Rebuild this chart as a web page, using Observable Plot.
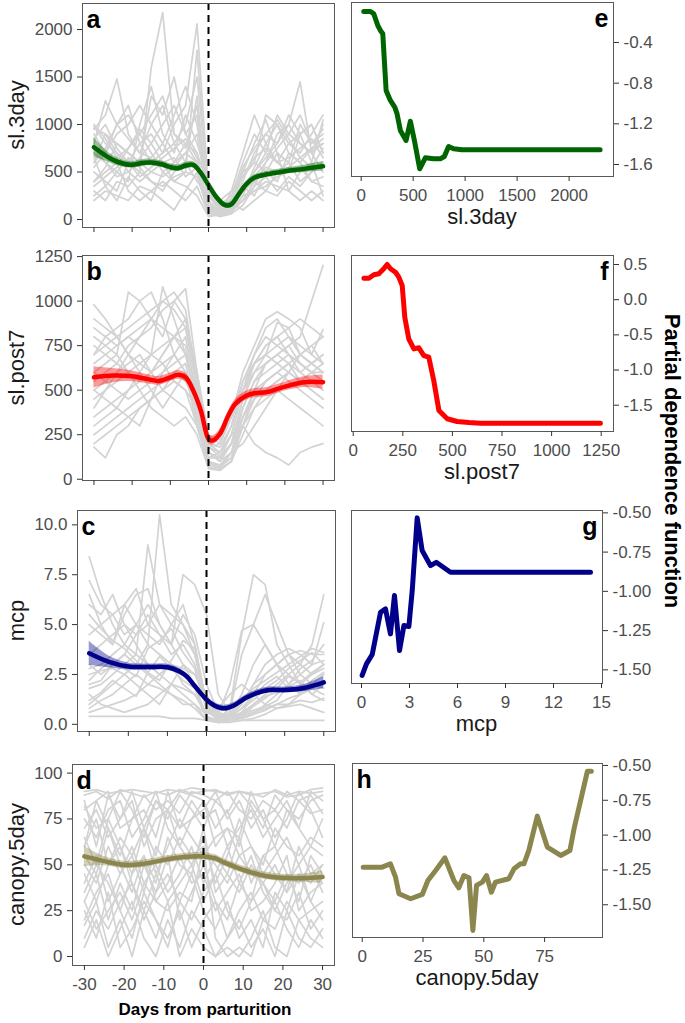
<!DOCTYPE html>
<html><head><meta charset="utf-8">
<script src="https://cdn.jsdelivr.net/npm/d3@7"></script>
<script src="https://cdn.jsdelivr.net/npm/@observablehq/plot@0.6"></script>
<style>
body{margin:0;background:#fff;}
#fig{position:relative;width:685px;height:1023px;overflow:hidden;font-family:"Liberation Sans",Arial,sans-serif;}
</style></head><body><div id="fig"></div>
<script>
// ---------- data ----------
const days = [-30,-27,-24,-21,-18,-15,-12,-9,-6,-3,0,3,6,9,12,15,18,21,24,27,30];
const xTickDays = [-30,-20,-10,0,10,20,30];

// individual traces (grey), values at `days`
const sl3dayTraces = [
  [950,1100,1480,900,700,650,800,600,700,900,200,80,150,400,700,900,800,1000,1450,700,800],
  [300,200,400,350,500,1600,2180,900,800,600,100,50,100,300,500,700,600,800,900,600,1050],
  [980,800,700,600,800,900,700,1000,1200,2060,300,100,200,500,600,1100,1000,800,700,900,1100],
  [600,900,700,500,400,500,600,400,500,1780,150,40,80,200,400,300,500,600,400,500,600],
  [800,1250,1000,1100,900,700,500,600,800,700,80,30,60,150,350,600,900,1000,800,700,500],
  [200,300,250,200,350,300,400,300,200,350,50,40,100,250,300,400,350,300,200,300,200],
  [700,600,500,400,1000,1400,900,700,1100,800,400,200,300,700,1100,800,600,500,900,1000,700],
  [500,400,300,600,500,400,300,500,600,400,250,120,180,100,200,300,250,400,300,200,300],
  [900,700,1000,1200,800,600,700,800,600,1300,120,60,90,500,800,1050,700,600,1000,800,900],
  [400,500,600,300,200,300,200,100,300,500,60,100,200,350,250,500,400,700,600,400,450],
  [960,900,800,700,600,1300,1100,1500,900,700,350,150,250,600,900,700,1100,900,800,700,1000],
  [650,350,200,450,300,200,500,400,350,250,30,50,300,450,600,500,700,300,500,600,250],
  [550,700,900,1000,1200,1000,800,1100,1400,1000,250,90,150,350,500,650,800,1100,900,1000,700],
  [750,600,450,500,650,800,1000,1200,900,1100,180,70,120,300,450,600,750,900,1100,800,950],
  [400,550,800,700,600,500,450,550,700,600,120,40,70,250,550,800,1000,700,600,750,800],
  [1000,850,650,750,900,1100,1300,900,750,1200,280,120,220,450,650,750,600,650,750,850,650],
  [250,350,500,650,550,400,350,450,500,450,90,60,120,200,300,350,450,500,550,400,350],
  [600,750,1000,850,700,1000,1200,800,1000,1500,300,140,200,550,750,900,1050,850,650,550,750],
  [850,1000,750,600,450,550,650,750,850,650,150,80,160,300,400,550,500,550,650,750,850],
  [350,450,550,750,950,800,600,650,450,550,70,50,90,200,350,450,300,450,350,500,600]
];
const slpost7Traces = [
  [980,900,800,700,650,600,700,800,900,600,250,200,350,600,750,900,940,900,850,700,840],
  [180,120,250,300,400,450,500,600,550,400,150,100,150,200,300,400,500,600,700,650,600],
  [700,800,850,900,1000,1050,900,700,600,350,100,80,120,300,500,650,700,750,800,1000,1200],
  [500,450,400,350,300,450,600,700,800,450,120,150,250,300,200,150,120,80,150,180,200],
  [600,650,700,1050,1000,900,800,1000,1070,600,200,150,250,500,650,750,800,700,650,600,550],
  [300,350,400,500,600,700,1080,900,700,400,150,100,200,400,550,600,650,700,600,550,500],
  [900,850,800,700,600,500,400,500,600,300,80,60,100,350,500,550,600,650,550,500,450],
  [400,500,600,650,700,600,500,450,400,300,120,120,200,450,600,700,880,850,700,650,700],
  [800,750,700,600,500,400,350,300,350,250,60,50,100,300,450,500,550,600,700,750,650],
  [550,600,650,750,800,850,950,1000,900,500,200,180,300,550,700,800,750,700,650,600,550],
  [250,300,350,400,450,500,550,600,650,350,100,80,150,350,450,550,600,550,500,450,400],
  [650,700,750,800,750,700,650,550,500,400,180,200,350,500,600,650,700,750,650,600,600],
  [700,750,800,850,900,950,1000,950,850,500,150,100,200,450,650,750,800,850,900,850,800],
  [450,500,550,600,650,700,750,800,750,400,100,60,150,400,550,650,700,650,600,650,700],
  [850,800,750,800,850,900,850,800,700,450,150,120,250,500,650,700,750,800,750,700,650],
  [350,400,450,500,550,600,650,700,600,300,70,50,100,250,400,500,550,600,550,500,450],
  [600,550,500,450,500,550,600,650,700,450,180,150,300,500,700,850,900,800,700,650,600],
  [200,250,300,350,400,450,500,550,500,300,90,70,120,300,400,450,500,450,400,350,300],
  [750,700,650,600,550,600,700,800,850,550,250,220,350,550,650,700,650,600,550,600,650],
  [500,550,600,700,800,900,1000,1050,950,550,180,130,200,350,450,550,600,650,700,750,800]
];
const mcpTraces = [
  [7.2,6,5.5,4.5,5,4,3.5,3,2.8,2.5,1.5,0.5,0.4,1,2,2.5,3,3.5,3.7,3.5,3.5],
  [8.4,6.5,5,4,3.5,9,6,5,4.5,3.5,0.8,0.2,0.3,0.5,1,1.5,2,2.5,3,4,6.5],
  [0.4,0.4,0.4,0.4,0.4,0.4,0.4,0.3,0.3,0.3,0.2,0.2,0.2,0.2,0.2,0.2,0.2,0.2,0.2,0.2,0.2],
  [2.5,2.7,2.8,2.5,3,4,10.5,6,5,4,1,0.3,0.8,4.5,7.5,7,4,3,2,1.5,1.2],
  [6.5,5,4,5.5,6.5,6.8,5,4,7.5,7,5.5,1.5,0.6,0.3,0.5,1,1.5,2,2.5,3,5.1],
  [1,1.5,2,2.5,2,1.5,1,2,3,2,0.4,0.1,0.2,0.4,0.6,0.8,1,1,1.2,1.1,1.3],
  [2.8,3,3.5,4,5,6,5,4,3,2.5,1.2,0.5,2,4.7,5,6.5,5,3.5,2.5,2,2.5],
  [1.5,1,0.8,0.6,0.8,1,1.5,2,1.5,1,0.2,0.1,0.1,0.2,0.3,0.5,0.8,1,1.5,2,1.8],
  [3.5,4,4.5,5,4,3,2.5,3,2,1.5,0.6,0.3,0.4,0.8,1.2,1.8,2.2,2.8,3.2,3.6,3],
  [2,2.2,3,3.5,3,2.5,2,1.5,1,1,0.5,0.8,1.5,2,1.5,1,0.8,0.9,1,0.8,0.6],
  [5,4.5,4,6,6.8,5,4.5,4,5.5,4.5,2,0.6,0.4,0.5,0.7,0.9,1.2,2,2.8,3.2,4],
  [0.6,0.8,1,1.2,1.5,2,2.5,3,2.5,2,0.3,0.2,0.3,0.6,1,1.4,1.6,1.9,2.2,1.5,2],
  [4.5,5,5.5,6,5,4.5,4,5,6,4,1,0.3,0.5,1.5,3,4,3,2.5,2,2.5,3],
  [1.8,2,2.5,3,3.5,3,2.5,2,1.8,1.5,0.4,0.2,0.3,0.8,1.5,2.5,3,3.5,3,2.5,2.8],
  [6,5.5,6.5,5,4.5,5,6,5.5,5,3.5,1.2,0.4,0.6,3.5,5,4,3,2,1.5,1.8,2.2],
  [0.8,1.2,1.5,2,2.5,2,1.8,1.5,1.2,0.8,0.2,0.1,0.2,0.3,0.5,0.7,1,1.3,1.5,1.8,1.5],
  [3,2.5,3,3.5,4.5,5.5,4.5,3.5,4,3,0.8,0.2,0.4,1,2,3,3.5,3.8,3.5,3,3.2],
  [2.2,2.8,3.2,2.8,2.4,3.8,4.2,4.8,3.6,2.8,0.7,0.3,0.5,1.2,1.8,2.2,2.6,3,3.4,3.8,3.6],
  [5.5,4.8,4.2,3.8,3.2,2.6,2.2,3.2,4.2,3.8,0.9,0.4,0.2,0.6,1.4,2,2.4,1.8,1.6,2.2,2.6],
  [1.2,1.6,2.2,1.8,1.4,2.6,3.4,2.8,2.2,1.8,0.3,0.1,0.2,0.4,0.9,1.3,1.8,2.4,2.1,2.6,3]
];
const canopyTraces = [
  [90,91,89,90,91,90,89,91,90,92,91,90,89,90,88,89,90,87,88,91,92],
  [85,60,88,75,90,70,85,80,90,88,85,70,80,60,85,75,80,70,85,78,80],
  [17,30,5,20,0,25,10,30,0,15,5,0,10,20,5,15,0,25,10,5,15],
  [50,40,60,45,55,35,60,50,65,55,60,50,40,55,45,40,50,35,45,40,50],
  [30,15,25,35,20,40,30,25,35,30,60,10,0,5,0,20,15,30,20,25,30],
  [70,80,65,75,85,60,75,80,70,85,75,80,60,70,80,65,75,85,70,60,75],
  [40,55,30,45,60,40,50,35,45,60,40,55,45,35,50,40,30,45,40,50,35],
  [60,75,50,65,55,70,45,60,75,65,55,65,70,55,60,45,55,65,50,60,55],
  [25,10,35,5,15,30,20,10,25,5,20,30,10,25,35,20,30,15,5,20,10],
  [80,85,90,70,75,88,80,85,78,90,88,85,90,80,75,85,80,90,85,88,78],
  [10,25,15,30,40,20,35,45,30,20,35,45,25,15,30,40,25,20,35,15,25],
  [55,45,70,50,35,55,40,65,50,45,70,35,45,65,40,55,60,45,30,55,45],
  [35,50,40,25,45,55,30,40,55,40,45,25,35,45,25,30,40,55,25,35,40],
  [75,65,80,85,65,75,90,70,60,75,80,90,75,85,70,80,65,75,90,80,65],
  [88,90,86,91,89,87,90,88,91,89,90,91,88,90,89,87,91,88,90,89,90],
  [5,20,0,15,30,10,0,20,5,25,15,0,5,0,10,25,5,0,20,10,5],
  [65,50,75,60,45,70,55,80,60,50,65,40,55,75,60,50,70,60,55,65,60],
  [45,30,50,60,40,25,45,30,40,50,30,45,60,40,30,55,45,35,60,45,50],
  [82,70,75,90,80,65,85,75,88,80,70,85,78,90,82,70,88,80,75,85,88],
  [20,35,45,25,10,35,20,5,30,45,25,15,30,10,20,5,35,25,45,30,20],
  [60,85,70,55,75,80,65,90,70,75,85,60,70,65,90,75,60,80,70,90,85],
  [30,45,20,40,25,50,35,55,20,35,50,30,20,40,55,35,25,40,50,30,45]
];

// smoothed means with ribbon half-widths
const smoothSl3X  = [-30,-27,-25,-22,-20,-17,-15,-12,-10,-8,-6,-4,-2,0,2,4,5,6,8,10,12,15,20,25,30];
const smoothSl3Y  = [761,675,628,585,576,597,600,579,551,540,568,575,490,362,240,158,147,160,270,375,439,474,508,533,561];
const smoothSl3SE = [100,60,45,35,35,35,35,35,35,35,35,35,32,30,30,30,30,30,30,30,30,30,32,38,50];

const smoothPostX  = [-30,-25,-20,-15,-13,-10,-8,-6,-4,-2,0,1,3,5,7,10,12,15,18,20,25,30];
const smoothPostY  = [572,582,578,558,552,572,586,572,498,386,227,217,255,348,423,470,483,488,507,520,545,545];
const smoothPostSE = [60,40,30,25,25,25,25,25,25,25,25,25,25,25,25,25,25,25,25,25,30,40];

const smoothMcpX  = [-30,-25,-20,-15,-10,-7,-5,-3,0,2,4,5,7,10,13,16,20,25,30];
const smoothMcpY  = [3.56,3.13,2.90,2.87,2.86,2.66,2.39,1.92,1.24,0.94,0.81,0.81,0.94,1.32,1.58,1.72,1.72,1.82,2.10];
const smoothMcpSE = [0.6,0.3,0.18,0.15,0.15,0.15,0.15,0.15,0.15,0.15,0.15,0.15,0.15,0.15,0.15,0.15,0.15,0.18,0.3];

const smoothCanX  = [-30,-25,-20,-15,-10,-5,0,3,5,10,15,20,25,30];
const smoothCanY  = [54.6,52,50.0,50.6,52.7,54.2,54.6,53.5,51.5,47.3,44.2,42.9,42.7,43.3];
const smoothCanSE = [5.5,2.5,2,2,2,2,2,2,2,2,2,2,2.2,3.5];

// partial dependence
const pdSl3X = [25,89,121,160,185,208,240,281,323,345,377,432,473,512,563,617,697,761,800,841,889,969,2298];
const pdSl3Y = [-0.095,-0.095,-0.118,-0.233,-0.282,-0.315,-0.872,-0.97,-1.036,-1.10,-1.265,-1.364,-1.174,-1.364,-1.642,-1.534,-1.544,-1.544,-1.521,-1.423,-1.446,-1.456,-1.456];
const pdPostX = [54,79,104,129,154,171,188,213,230,247,260,280,306,331,356,381,406,432,474,524,583,642,1246];
const pdPostY = [0.305,0.305,0.354,0.368,0.439,0.5,0.439,0.39,0.32,0.20,-0.249,-0.557,-0.70,-0.684,-0.794,-0.818,-1.149,-1.575,-1.693,-1.732,-1.746,-1.755,-1.755];
const pdMcpX = [0.04,0.31,0.67,1.19,1.5,1.81,2.06,2.375,2.65,2.96,3.17,3.48,3.79,4.31,4.67,5.56,14.31];
const pdMcpY = [-1.536,-1.462,-1.402,-1.133,-1.112,-1.271,-1.027,-1.377,-1.218,-1.224,-0.995,-0.532,-0.740,-0.836,-0.815,-0.878,-0.878];
const pdCanX = [0.4,8.2,11.6,13.7,15.1,19.9,24.7,27.0,30.2,34.0,37.7,39.7,41.8,43.9,45.5,47.0,49.4,51.1,53.1,54.8,60.3,62.4,65.1,66.5,68.5,72.0,76.1,81.6,85.4,87.1,92.6,94.2];
const pdCanY = [-1.230,-1.230,-1.206,-1.302,-1.421,-1.457,-1.426,-1.326,-1.254,-1.163,-1.326,-1.378,-1.29,-1.306,-1.684,-1.361,-1.337,-1.29,-1.41,-1.337,-1.313,-1.242,-1.206,-1.206,-1.110,-0.864,-1.086,-1.146,-1.110,-0.954,-0.541,-0.541];

const leftTitles = ["sl.3day","sl.post7","mcp","canopy.5day"];
const colors = ["#006400","#ff0000","#00008b","#8b864e"];

// ---------- helpers ----------
const longTable = traces => traces.flatMap((vals, id) => vals.map((v, j) => ({x: days[j], y: v, id})));
const smoothTable = (xs, ys, se) => xs.map((x, i) => ({x, y: ys[i], lo: ys[i] - se[i], hi: ys[i] + se[i]}));
const pairTable = (xs, ys) => xs.map((x, i) => ({x, y: ys[i]}));

const fig = document.getElementById("fig");
const baseStyle = {fontFamily: "'Liberation Sans', Arial, sans-serif", fontSize: "17px", color: "#4d4d4d", background: "transparent", overflow: "visible"};

function makePanel(g) {
  const left = g.side === "left";
  const sx = left ? 0 : 340, sw = 345;
  const sy = Math.max(0, g.T - 10);
  const sb = Math.min(1023, g.B + 42);
  const sh = sb - sy;
  const marks = [
    ...g.marks,
    Plot.frame({stroke: "#595959", strokeWidth: 1}),
    Plot.axisX({ticks: g.xTicks, tickFormat: g.xLabels ? g.xFmt : () => "", tickSize: 5, tickPadding: 7, stroke: "#333", fill: "#4d4d4d", label: null}),
    Plot.axisY({anchor: left ? "left" : "right", ticks: g.yTicks, tickFormat: g.yFmt, tickSize: 5, tickPadding: 5, stroke: "#333", fill: "#4d4d4d", label: null}),
    Plot.text([g.letter], {text: d => d, frameAnchor: g.letterRight ? "top-right" : "top-left", textAnchor: g.letterRight ? "end" : "start", dx: g.letterRight ? -5 : 4, dy: 24, lineAnchor: "bottom", fontSize: 25, fontWeight: "bold", fill: "#000"})
  ];
  const svg = Plot.plot({
    width: sw, height: sh,
    marginLeft: g.L - sx, marginRight: sx + sw - g.R, marginTop: g.T - sy, marginBottom: sb - g.B,
    x: {domain: g.xDomain, label: null},
    y: {domain: g.yDomain, label: null},
    style: baseStyle,
    marks
  });
  svg.style.position = "absolute";
  svg.style.left = sx + "px";
  svg.style.top = sy + "px";
  fig.appendChild(svg);
}

function leftMarks(traces, sm, color) {
  return [
    Plot.line(longTable(traces), {x: "x", y: "y", z: "id", stroke: "#d3d3d3", strokeWidth: 1.7}),
    Plot.areaY(sm, {x: "x", y1: "lo", y2: "hi", fill: color, fillOpacity: 0.4, curve: "catmull-rom"}),
    Plot.line(sm, {x: "x", y: "y", stroke: color, strokeWidth: 4.5, curve: "catmull-rom"}),
    Plot.ruleX([0], {stroke: "#000", strokeWidth: 2, strokeDasharray: "7,5"})
  ];
}
const fmtInt = d => String(d);
const fix = n => d => d.toFixed(n);

const L = [
  {T: 3, B: 227, L: 82, R: 334, yDomain: [-84, 2274], yTicks: [0,500,1000,1500,2000], yFmt: fmtInt, traces: sl3dayTraces, sm: smoothTable(smoothSl3X, smoothSl3Y, smoothSl3SE), letter: "a", xLabels: false},
  {T: 255, B: 480, L: 82, R: 334, yDomain: [-7, 1256], yTicks: [0,250,500,750,1000,1250], yFmt: fmtInt, traces: slpost7Traces, sm: smoothTable(smoothPostX, smoothPostY, smoothPostSE), letter: "b", xLabels: false},
  {T: 510, B: 731, L: 77, R: 335, yDomain: [-0.36, 10.72], yTicks: [0,2.5,5,7.5,10], yFmt: fix(1), traces: mcpTraces, sm: smoothTable(smoothMcpX, smoothMcpY, smoothMcpSE), letter: "c", xLabels: false},
  {T: 764, B: 965, L: 72, R: 334, yDomain: [-4.9, 104.7], yTicks: [0,25,50,75,100], yFmt: fmtInt, traces: canopyTraces, sm: smoothTable(smoothCanX, smoothCanY, smoothCanSE), letter: "d", xLabels: true}
];
L.forEach((p, i) => makePanel({
  side: "left", T: p.T, B: p.B, L: p.L, R: p.R,
  xDomain: [-33, 33], yDomain: p.yDomain, xTicks: xTickDays, xFmt: fmtInt, xLabels: p.xLabels,
  yTicks: p.yTicks, yFmt: p.yFmt, letter: p.letter, letterRight: false,
  marks: leftMarks(p.traces, p.sm, colors[i])
}));

const Rp = [
  {T: 2, B: 176, L: 351, R: 613, xDomain: [-93, 2427], yDomain: [-1.718, -0.007], xTicks: [0,500,1000,1500,2000], yTicks: [-1.6,-1.2,-0.8,-0.4], yFmt: fix(1), data: pairTable(pdSl3X, pdSl3Y), letter: "e", right: true},
  {T: 255, B: 431, L: 351, R: 613, xDomain: [-8.6, 1312], yDomain: [-1.874, 0.628], xTicks: [0,250,500,750,1000,1250], yTicks: [-1.5,-1,-0.5,0,0.5], yFmt: fix(1), data: pairTable(pdPostX, pdPostY), letter: "f", right: true},
  {T: 510, B: 683, L: 351, R: 602, xDomain: [-0.625, 15.06], yDomain: [-1.587, -0.485], xTicks: [0,3,6,9,12,15], yTicks: [-1.5,-1.25,-1,-0.75,-0.5], yFmt: fix(2), data: pairTable(pdMcpX, pdMcpY), letter: "g", right: true},
  {T: 763, B: 937, L: 352, R: 602, xDomain: [-4, 98.8], yDomain: [-1.735, -0.486], xTicks: [0,25,50,75], yTicks: [-1.5,-1.25,-1,-0.75,-0.5], yFmt: fix(2), data: pairTable(pdCanX, pdCanY), letter: "h", right: false}
];
Rp.forEach((p, i) => makePanel({
  side: "right", T: p.T, B: p.B, L: p.L, R: p.R,
  xDomain: p.xDomain, yDomain: p.yDomain, xTicks: p.xTicks, xFmt: fmtInt, xLabels: true,
  yTicks: p.yTicks, yFmt: p.yFmt, letter: p.letter, letterRight: p.right,
  marks: [Plot.line(p.data, {x: "x", y: "y", stroke: colors[i], strokeWidth: 5, strokeLinejoin: "round"})]
}));

// ---------- titles overlay ----------
const ns = "http://www.w3.org/2000/svg";
const ov = document.createElementNS(ns, "svg");
ov.setAttribute("width", 685); ov.setAttribute("height", 1023);
ov.style.cssText = "position:absolute;left:0;top:0;pointer-events:none;font-family:'Liberation Sans',Arial,sans-serif;";
function addText(txt, x, y, opts) {
  const t = document.createElementNS(ns, "text");
  t.textContent = txt;
  t.setAttribute("x", 0); t.setAttribute("y", 0);
  t.setAttribute("text-anchor", "middle");
  t.setAttribute("transform", `translate(${x},${y}) rotate(${opts.rotate || 0})`);
  t.setAttribute("font-size", opts.size);
  if (opts.bold) t.setAttribute("font-weight", "bold");
  t.setAttribute("fill", opts.fill || "#1a1a1a");
  ov.appendChild(t);
}
L.forEach((p, i) => addText(leftTitles[i], 24, (p.T + p.B) / 2, {size: 22, rotate: -90}));
Rp.forEach((p, i) => addText(leftTitles[i], (p.L + p.R) / 2, p.B + 48, {size: 22}));
addText("Days from parturition", 205, 1015, {size: 17, bold: true, fill: "#000"});
addText("Partial dependence function", 665, 461, {size: 22, bold: true, rotate: 90, fill: "#000"});
fig.appendChild(ov);
</script>
</body></html>
